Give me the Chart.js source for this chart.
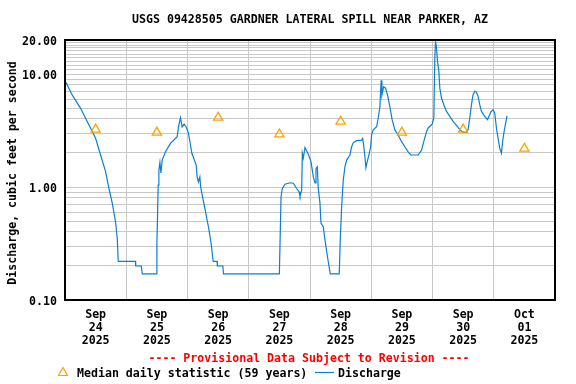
<!DOCTYPE html>
<html><head><meta charset="utf-8">
<script src="https://cdn.jsdelivr.net/npm/chart.js@4.4.1/dist/chart.umd.min.js"></script>
<style>html,body{margin:0;padding:0;background:#fff;}#wrap{width:576px;height:384px;position:relative;}</style>
</head><body><div id="wrap"><canvas id="c" width="576" height="384"></canvas></div>
<script>
const TITLE = 'USGS 09428505 GARDNER LATERAL SPILL NEAR PARKER, AZ';
const Y_TITLE = 'Discharge, cubic feet per second';
const PROVISIONAL = '---- Provisional Data Subject to Revision ----';
const LEGEND_MEDIAN = 'Median daily statistic (59 years)';
const LEGEND_DISCHARGE = 'Discharge';

// days (tick labels at noon of each day); hours counted from Sep 24 00:00
const dayMonths = ['Sep','Sep','Sep','Sep','Sep','Sep','Sep','Oct'];
const dayNums   = ['24','25','26','27','28','29','30','01'];
const dayYears  = ['2025','2025','2025','2025','2025','2025','2025','2025'];
const dayHours  = [12,36,60,84,108,132,156,180];
const medianValues = [3.23,3.04,4.12,2.93,3.80,3.04,3.23,2.19];

const dischargeHours = [0,0.52,2.87,6.12,8.74,11.99,13.94,15.9,17.23,18.52,19.81,20.48,20.87,27.64,27.7,29.87,30.3,35.74,
36.01,36.52,36.79,37.19,37.58,38.09,39.38,41.33,43.95,44.62,45.25,45.91,46.7,47.48,48.38,49.71,51.39,51.78,52.29,52.84,53.15,53.62,54.91,56.2,57.26,57.92,58.1,59.6,59.7,61.84,62.1,83.99,
84.26,84.65,85.16,86.21,88.17,89.46,90.79,91.69,92.08,92.75,92.99,93.38,94.04,95.33,96.39,96.9,97.29,97.96,98.35,98.86,99.25,99.91,100.3,101.2,101.87,102.53,103.16,103.94,107.46,
107.85,108.4,109.03,109.69,110.36,111.65,112.32,112.94,114.27,116.23,116.62,117.01,117.52,117.91,118.42,119.09,119.75,120.14,120.77,122.1,122.72,123.39,123.78,123.9,124.17,124.84,125.62,126.4,127.3,128.2,129.26,130.55,131.88,133.17,134.46,135.52,138.38,
139.71,140.73,141.67,142.3,143.86,144.52,144.91,145.19,145.58,145.97,146.48,146.87,147.53,148.43,149.49,150.78,152.07,153.4,154.69,155.98,157.31,157.94,158.6,159.27,159.89,160.56,161.22,161.85,162.51,163.18,164.47,165.53,166.15,166.82,167.72,168.39,169.05,169.68,170.34,171.01,171.64,172.3,173.2];
const dischargeValues = [8.6,8.3,6.5,4.97,3.78,2.7,1.92,1.37,0.97,0.72,0.49,0.35,0.22,0.22,0.2,0.2,0.17,0.17,
0.31,1.04,1.41,1.65,1.33,1.73,2.05,2.43,2.79,3.54,4.1,3.4,3.6,3.4,2.99,1.99,1.57,1.23,1.11,1.23,1.0,0.88,0.63,0.445,0.317,0.234,0.22,0.22,0.2,0.2,0.17,0.17,
0.32,0.82,0.97,1.06,1.09,1.08,0.97,0.91,0.83,0.94,1.99,1.8,2.24,1.95,1.68,1.41,1.23,1.09,1.46,1.51,0.97,0.72,0.48,0.445,0.34,0.268,0.218,0.17,0.17,
0.34,0.67,1.15,1.51,1.73,1.92,2.27,2.46,2.57,2.6,2.7,2.35,1.85,1.48,1.68,1.92,2.27,2.89,3.2,3.41,4.06,5.13,8.0,8.8,6.5,7.7,7.5,6.5,5.13,3.92,3.2,2.89,2.52,2.27,2.05,1.92,1.92,
2.12,2.6,3.09,3.33,3.6,4.08,13.8,19.5,17,12.9,10.6,7.5,6.13,5.35,4.67,4.22,3.81,3.51,3.22,3.05,3.05,3.22,4.08,5.35,6.55,7.03,6.9,6.35,5.35,4.67,4.22,3.94,4.22,4.6,4.83,4.52,3.33,2.71,2.21,2.0,2.71,3.33,4.27];

const yTickValues = [0.1,0.2,0.3,0.4,0.5,0.6,0.7,0.8,0.9,1,2,3,4,5,6,7,8,9,10,11,12,13,14,15,16,17,18,19,20];
const yLabelValues = [0.1,1,10,20];

const MONO = "'DejaVu Sans Mono','Liberation Mono',monospace";
const FONT_SIZE = 11.6;
const GRID = '#c8c8c8';
const BLUE = '#0b7fd1';
const ORANGE = '#ffa200';

const decorPlugin = {
  id: 'decor',
  afterDraw(chart) {
    const {ctx, chartArea: a} = chart;
    ctx.save();
    ctx.strokeStyle = '#000';
    ctx.lineWidth = 2;
    ctx.strokeRect(a.left, a.top, a.right - a.left, a.bottom - a.top);
    ctx.font = 'bold ' + FONT_SIZE + 'px ' + MONO;
    ctx.fillStyle = '#000';
    ctx.textBaseline = 'middle';
    ctx.textAlign = 'center';
    ctx.fillText(TITLE, 310, 20);
    ctx.fillStyle = '#ff0000';
    ctx.fillText(PROVISIONAL, 309, 359);
    // y title
    ctx.save();
    ctx.translate(13, 173);
    ctx.rotate(-Math.PI / 2);
    ctx.fillStyle = '#000';
    ctx.fillText(Y_TITLE, 0, 0);
    ctx.restore();
    // legend
    ctx.textAlign = 'left';
    ctx.fillStyle = '#000';
    ctx.fillText(LEGEND_MEDIAN, 77, 374);
    ctx.fillText(LEGEND_DISCHARGE, 338, 374);
    ctx.strokeStyle = ORANGE; ctx.lineWidth = 1.2;
    ctx.beginPath();
    ctx.moveTo(63, 367.5); ctx.lineTo(67.5, 375.5); ctx.lineTo(58.5, 375.5); ctx.closePath();
    ctx.stroke();
    ctx.strokeStyle = BLUE; ctx.lineWidth = 1.2;
    ctx.beginPath(); ctx.moveTo(315, 372.5); ctx.lineTo(334, 372.5); ctx.stroke();
    ctx.restore();
  }
};

new Chart(document.getElementById('c'), {
  type: 'scatter',
  data: {
    datasets: [
      {
        label: LEGEND_DISCHARGE,
        data: dischargeHours.map((h, i) => ({x: h, y: dischargeValues[i]})),
        showLine: true, borderColor: BLUE, borderWidth: 1.2, pointRadius: 0, tension: 0, order: 2
      },
      {
        label: LEGEND_MEDIAN,
        data: dayHours.map((h, i) => ({x: h, y: medianValues[i]})),
        showLine: false, pointStyle: 'triangle', pointRadius: 5.3,
        borderColor: ORANGE, borderWidth: 1.3, backgroundColor: 'rgba(0,0,0,0)', order: 1
      }
    ]
  },
  options: {
    responsive: false, animation: false, devicePixelRatio: 1,
    layout: {padding: {left: 0, right: 21, top: 40, bottom: 0}},
    plugins: {legend: {display: false}, tooltip: {enabled: false}},
    scales: {
      x: {
        type: 'linear', min: 0, max: 192,
        afterBuildTicks: s => { s.ticks = dayHours.map(v => ({value: v})); },
        afterFit: s => { s.height = 84; },
        ticks: {
          autoSkip: false, maxRotation: 0, minRotation: 0, padding: 8, color: '#000',
          font: {family: MONO, size: FONT_SIZE, weight: 'bold', lineHeight: 1.13},
          callback: (v, i) => [dayMonths[i], dayNums[i], dayYears[i]]
        },
        grid: {offset: true, color: GRID, lineWidth: 1, drawTicks: false},
        border: {display: false}
      },
      y: {
        type: 'logarithmic', min: 0.1, max: 20,
        afterBuildTicks: s => { s.ticks = yTickValues.map(v => ({value: v})); },
        afterFit: s => { s.width = 65; },
        ticks: {
          autoSkip: false, padding: 8, color: '#000', labelOffset: 2,
          font: {family: MONO, size: FONT_SIZE, weight: 'bold'},
          callback: v => yLabelValues.includes(v) ? v.toFixed(2) : ''
        },
        grid: {color: GRID, lineWidth: 1, drawTicks: false},
        border: {display: false}
      }
    }
  },
  plugins: [decorPlugin]
});
</script>
</body></html>
